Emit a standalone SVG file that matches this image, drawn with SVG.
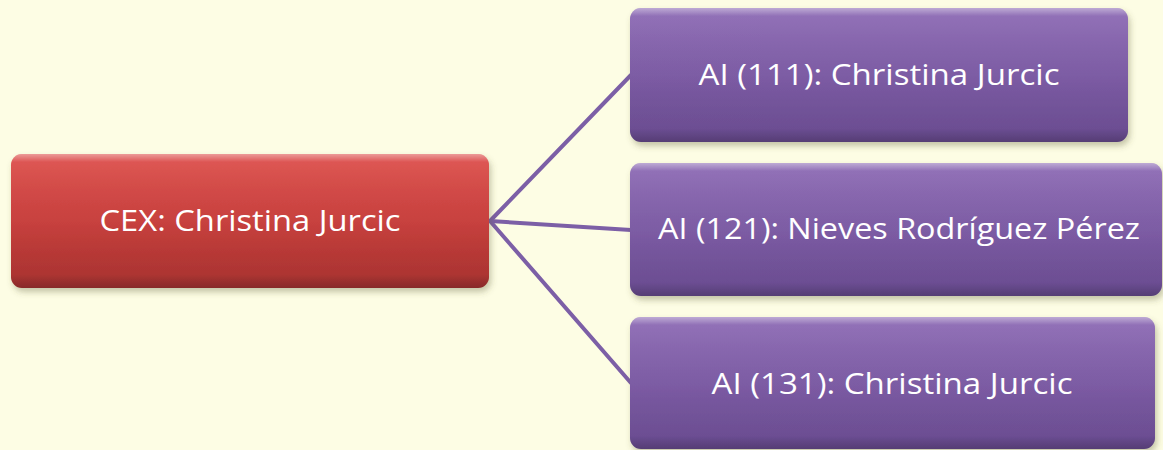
<svg xmlns="http://www.w3.org/2000/svg" width="1163" height="450" viewBox="0 0 1163 450">
<defs>
<linearGradient id="gRed" x1="0" y1="0" x2="0" y2="1">
<stop offset="0" stop-color="#DC4845"/>
<stop offset="0.5" stop-color="#CB3F3C"/>
<stop offset="1" stop-color="#A53230"/>
</linearGradient>
<linearGradient id="gPur" x1="0" y1="0" x2="0" y2="1">
<stop offset="0" stop-color="#8966B2"/>
<stop offset="0.5" stop-color="#7D5BA6"/>
<stop offset="1" stop-color="#684B8E"/>
</linearGradient>
<linearGradient id="gHi" x1="0" y1="0" x2="0" y2="1">
<stop offset="0" stop-color="#ffffff" stop-opacity="0.45"/>
<stop offset="0.06" stop-color="#ffffff" stop-opacity="0.08"/>
<stop offset="0.9" stop-color="#000000" stop-opacity="0"/>
<stop offset="1" stop-color="#000000" stop-opacity="0.18"/>
</linearGradient>
<filter id="sh" x="-10%" y="-10%" width="120%" height="130%">
<feDropShadow dx="2" dy="4" stdDeviation="3" flood-color="#5a5a30" flood-opacity="0.35"/>
</filter>
</defs>
<style>
.red{fill:url(#gRed);filter:url(#sh)}
.pur{fill:url(#gPur);filter:url(#sh)}
.hi{fill:url(#gHi)}
.lbl{font-family:"Open Sans","Noto Sans",sans-serif;font-size:29px;fill:#ffffff;text-anchor:middle}
.con{stroke:#7C5FA6;stroke-width:4;fill:none;stroke-linecap:round}
</style>
<rect width="1163" height="450" fill="#FDFDE4"/>
<g id="connectors">
<line class="con" x1="490" y1="221" x2="631" y2="75"/>
<line class="con" x1="490" y1="221" x2="631" y2="230"/>
<line class="con" x1="490" y1="221" x2="631" y2="383"/>
</g>
<g id="cex">
<rect class="red" x="11" y="154" width="478" height="134" rx="11"/>
<rect class="hi" x="11" y="154" width="478" height="134" rx="11"/>
<text class="lbl" x="250" y="231" textLength="301" lengthAdjust="spacingAndGlyphs">CEX: Christina Jurcic</text>
</g>
<g id="ai111">
<rect class="pur" x="630" y="8" width="498" height="134" rx="11"/>
<rect class="hi" x="630" y="8" width="498" height="134" rx="11"/>
<text class="lbl" x="879" y="85" textLength="361" lengthAdjust="spacingAndGlyphs">AI (111): Christina Jurcic</text>
</g>
<g id="ai121">
<rect class="pur" x="630" y="163" width="532" height="133" rx="11"/>
<rect class="hi" x="630" y="163" width="532" height="133" rx="11"/>
<text class="lbl" x="899" y="239" textLength="482" lengthAdjust="spacingAndGlyphs">AI (121): Nieves Rodríguez Pérez</text>
</g>
<g id="ai131">
<rect class="pur" x="630" y="317" width="525" height="132" rx="11"/>
<rect class="hi" x="630" y="317" width="525" height="132" rx="11"/>
<text class="lbl" x="892" y="394" textLength="361" lengthAdjust="spacingAndGlyphs">AI (131): Christina Jurcic</text>
</g>
</svg>
